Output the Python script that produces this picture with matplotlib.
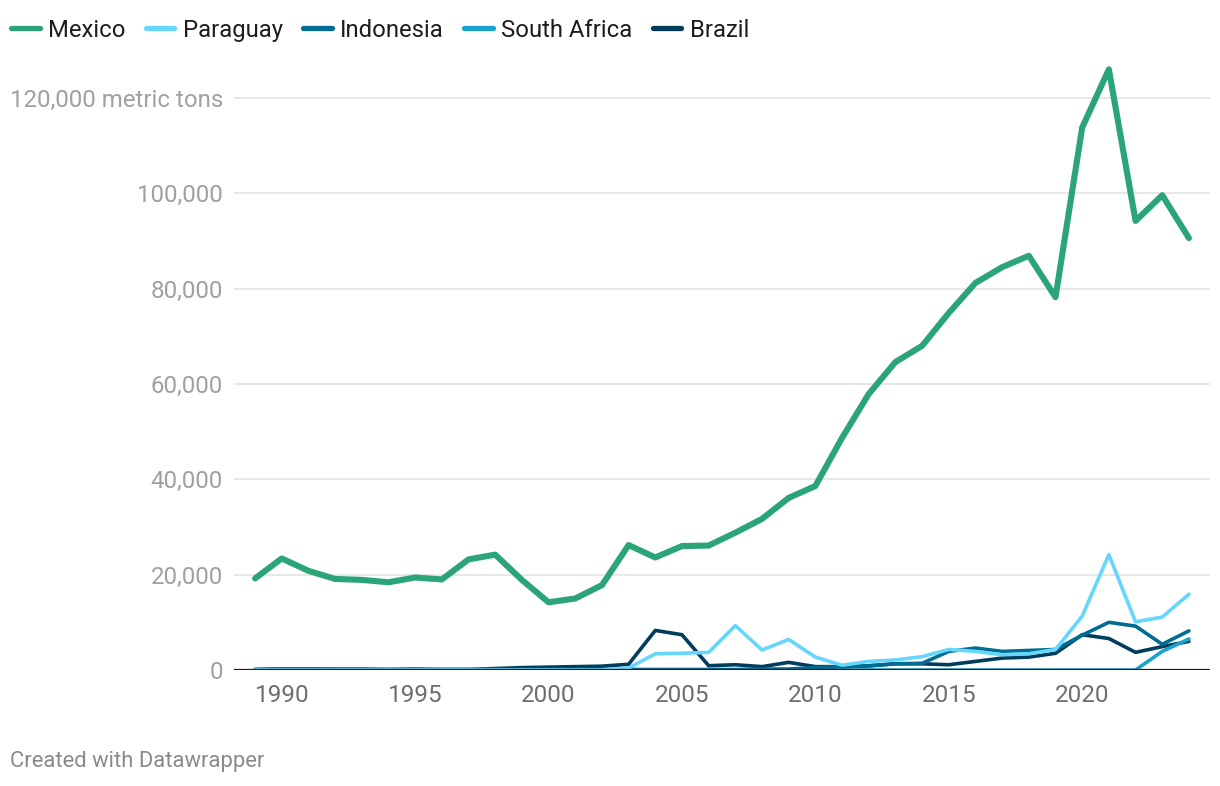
import matplotlib
matplotlib.use('Agg')
from matplotlib import pyplot as plt
from matplotlib.lines import Line2D
from matplotlib.ticker import FuncFormatter

years = list(range(1989, 2025))

mexico = [19.2, 23.4, 20.8, 19.1, 18.9, 18.4, 19.4, 19.0, 23.2, 24.2,
          18.9, 14.2, 15.0, 17.8, 26.2, 23.6, 26.0, 26.1, 28.8, 31.7,
          36.1, 38.6, 48.7, 57.9, 64.6, 68.0, 74.9, 81.2, 84.5, 86.9,
          78.2, 113.8, 126.0, 94.2, 99.6, 90.6]
paraguay = [0.0, 0.0, 0.0, 0.0, 0.0, 0.0, 0.0, 0.0, 0.0, 0.0,
            0.0, 0.0, 0.0, 0.0, 0.4, 3.4, 3.5, 3.7, 9.3, 4.2,
            6.4, 2.7, 1.0, 1.8, 2.1, 2.8, 4.3, 3.9, 3.2, 3.4,
            4.3, 11.3, 24.2, 10.1, 11.1, 15.9]
indonesia = [0.1, 0.2, 0.2, 0.2, 0.2, 0.1, 0.2, 0.1, 0.1, 0.1,
             0.1, 0.1, 0.1, 0.1, 0.1, 0.1, 0.1, 0.1, 0.1, 0.2,
             0.2, 0.5, 0.7, 0.9, 1.3, 1.4, 3.9, 4.6, 3.9, 4.1,
             4.3, 7.3, 10.0, 9.2, 5.4, 8.2]
south_africa = [0.0, 0.0, 0.0, 0.0, 0.0, 0.0, 0.0, 0.0, 0.0, 0.0,
                0.0, 0.0, 0.0, 0.0, 0.0, 0.0, 0.0, 0.0, 0.0, 0.0,
                0.0, 0.0, 0.0, 0.0, 0.0, 0.0, 0.0, 0.0, 0.0, 0.0,
                0.0, 0.0, 0.0, 0.0, 3.9, 6.5]
brazil = [0.1, 0.2, 0.2, 0.1, 0.1, 0.1, 0.1, 0.1, 0.1, 0.3,
          0.5, 0.6, 0.7, 0.8, 1.2, 8.3, 7.4, 0.9, 1.1, 0.7,
          1.6, 0.7, 0.7, 0.85, 1.3, 1.3, 1.1, 1.8, 2.5, 2.7,
          3.5, 7.4, 6.6, 3.7, 4.9, 6.0]

names = ['Mexico', 'Paraguay', 'Indonesia', 'South Africa', 'Brazil']
colors = ['#2ba578', '#66d6fc', '#006c93', '#1ba3cf', '#003d5c']
series = [mexico, paraguay, indonesia, south_africa, brazil]

plt.rcParams['font.family'] = ['Roboto', 'DejaVu Sans']

fig = plt.figure(figsize=(12.2, 7.86), dpi=100)
ax = fig.add_axes([0.1918, 0.1476, 0.8, 0.7763])

# thin lines first, Mexico on top
for i in range(len(names) - 1, 0, -1):
    ax.plot(years, [v * 1000 for v in series[i]], color=colors[i], lw=2.6,
            solid_joinstyle='round', solid_capstyle='round', zorder=3)
ax.plot(years, [v * 1000 for v in mexico], color=colors[0], lw=4.4,
        solid_joinstyle='round', solid_capstyle='round', zorder=4)

ax.set_xlim(1988.21, 2024.79)
ax.set_ylim(0, 128000)
ax.set_yticks(range(0, 120001, 20000))
ax.set_xticks(range(1990, 2021, 5))


def yfmt(v, pos):
    if v == 120000:
        return '120,000 metric tons'
    return f'{int(v):,}'


ax.yaxis.set_major_formatter(FuncFormatter(yfmt))
ax.grid(axis='y', color='#e5e5e5', lw=1.3, zorder=0)
ax.axhline(0, color='#1a1a1a', lw=1.6, zorder=5)
for s in ax.spines.values():
    s.set_visible(False)
ax.tick_params(axis='y', length=0, pad=8, labelsize=17.3, labelcolor='#a0a0a0')
ax.tick_params(axis='x', length=0, pad=10, labelsize=17.5, labelcolor='#6e6e6e')

handles = [Line2D([0], [0], color=c, lw=3.8, solid_capstyle='round') for c in colors]
fig.legend(handles, names, loc='center left', bbox_to_anchor=(0.009, 0.9618),
           bbox_transform=fig.transFigure, ncol=5, frameon=False,
           borderpad=0, borderaxespad=0, handlelength=1.2, handletextpad=0.35,
           columnspacing=0.85, fontsize=17.2, labelcolor='#1d1d1d')

fig.text(0.0082, 1 - 762 / 786, 'Created with Datawrapper', fontsize=15.8,
         color='#8a8a8a', va='center', ha='left')

plt.savefig('out.png', dpi=100)
